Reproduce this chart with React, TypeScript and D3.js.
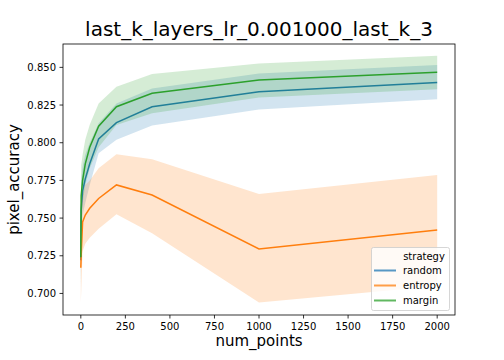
import React, { useEffect, useRef } from 'react';
import * as d3 from 'd3';

// num_points values on the x axis
const numPoints = [0, 2, 10, 25, 50, 100, 200, 400, 1000, 2000];

// strategy: random
const randomMean = [0.722, 0.755, 0.768, 0.776, 0.786, 0.8025, 0.8133, 0.8239, 0.8338, 0.84];
const randomLow = [0.7, 0.735, 0.752, 0.76, 0.772, 0.793, 0.802, 0.8115, 0.822, 0.8288];
const randomHigh = [0.745, 0.775, 0.784, 0.792, 0.8, 0.8129, 0.826, 0.836, 0.846, 0.8515];

// strategy: entropy
const entropyMean = [0.717, 0.725, 0.7475, 0.752, 0.7565, 0.763, 0.772, 0.7653, 0.7295, 0.7421];
const entropyLow = [0.694, 0.7, 0.728, 0.733, 0.737, 0.743, 0.7525, 0.74, 0.694, 0.705];
const entropyHigh = [0.74, 0.75, 0.765, 0.772, 0.775, 0.783, 0.7923, 0.789, 0.766, 0.7786];

// strategy: margin
const marginMean = [0.724, 0.765, 0.775, 0.786, 0.797, 0.811, 0.8239, 0.8328, 0.8416, 0.8467];
const marginLow = [0.705, 0.745, 0.76, 0.772, 0.783, 0.797, 0.8117, 0.8195, 0.83, 0.8354];
const marginHigh = [0.745, 0.785, 0.792, 0.802, 0.812, 0.826, 0.8371, 0.8456, 0.8526, 0.8577];

const strategies = ['random', 'entropy', 'margin'];
const colors = ['#1f77b4', '#ff7f0e', '#2ca02c'];

const xTicks = [0, 250, 500, 750, 1000, 1250, 1500, 1750, 2000];
const yTicks = [0.7, 0.725, 0.75, 0.775, 0.8, 0.825, 0.85];

const App = () => {
  const ref = useRef<SVGSVGElement>(null);

  useEffect(() => {
    const svg = d3.select(ref.current);
    svg.selectAll('*').remove();

    const left = 63, right = 455, top = 44, bottom = 315;
    const font = 'DejaVu Sans, sans-serif';

    const x = d3.scaleLinear().domain([-100, 2100]).range([left, right]);
    const y = d3.scaleLinear().domain([0.6857, 0.8655]).range([bottom, top]);

    svg.append('rect').attr('width', 504).attr('height', 360).attr('fill', '#fff');

    const series = [
      { mean: randomMean, low: randomLow, high: randomHigh },
      { mean: entropyMean, low: entropyLow, high: entropyHigh },
      { mean: marginMean, low: marginLow, high: marginHigh },
    ];

    const line = d3.line<number>()
      .x((_, i) => x(numPoints[i]))
      .y(d => y(d));

    series.forEach((s, k) => {
      svg.append('path')
        .attr('d', line(s.mean))
        .attr('fill', 'none')
        .attr('stroke', colors[k])
        .attr('stroke-width', 1.5);

      const area = d3.area<number>()
        .x((_, i) => x(numPoints[i]))
        .y0((_, i) => y(s.low[i]))
        .y1((_, i) => y(s.high[i]));

      svg.append('path')
        .attr('d', area(s.mean))
        .attr('fill', colors[k])
        .attr('fill-opacity', 0.2);
    });

    // frame
    svg.append('rect')
      .attr('x', left).attr('y', top)
      .attr('width', right - left).attr('height', bottom - top)
      .attr('fill', 'none').attr('stroke', '#000').attr('stroke-width', 0.8);

    // x ticks
    const xg = svg.append('g');
    xTicks.forEach(t => {
      xg.append('line')
        .attr('x1', x(t)).attr('x2', x(t))
        .attr('y1', bottom).attr('y2', bottom + 3.5)
        .attr('stroke', '#000').attr('stroke-width', 0.8);
      xg.append('text')
        .attr('x', x(t)).attr('y', bottom + 7)
        .attr('dy', '0.76em')
        .attr('text-anchor', 'middle')
        .attr('font-family', font).attr('font-size', 10)
        .text(String(t));
    });

    // y ticks
    const yg = svg.append('g');
    yTicks.forEach(t => {
      yg.append('line')
        .attr('x1', left - 3.5).attr('x2', left)
        .attr('y1', y(t)).attr('y2', y(t))
        .attr('stroke', '#000').attr('stroke-width', 0.8);
      yg.append('text')
        .attr('x', left - 7).attr('y', y(t))
        .attr('dy', '0.36em')
        .attr('text-anchor', 'end')
        .attr('font-family', font).attr('font-size', 10)
        .text(d3.format('.3f')(t));
    });

    // labels
    svg.append('text')
      .attr('x', (left + right) / 2).attr('y', 346)
      .attr('text-anchor', 'middle')
      .attr('font-family', font).attr('font-size', 15)
      .text('num_points');

    svg.append('text')
      .attr('transform', `translate(19, ${(top + bottom) / 2}) rotate(-90)`)
      .attr('text-anchor', 'middle')
      .attr('font-family', font).attr('font-size', 15)
      .text('pixel_accuracy');

    svg.append('text')
      .attr('x', (left + right) / 2).attr('y', 36)
      .attr('text-anchor', 'middle')
      .attr('font-family', font).attr('font-size', 20)
      .text('last_k_layers_lr_0.001000_last_k_3');

    // legend
    const lg = svg.append('g');
    lg.append('rect')
      .attr('x', 371.5).attr('y', 247.5)
      .attr('width', 78).attr('height', 63)
      .attr('rx', 2)
      .attr('fill', '#fff').attr('fill-opacity', 0.8)
      .attr('stroke', '#cccccc').attr('stroke-width', 0.8);
    lg.append('text')
      .attr('x', 424).attr('y', 256)
      .attr('dy', '0.36em')
      .attr('text-anchor', 'middle')
      .attr('font-family', font).attr('font-size', 10)
      .text('strategy');
    strategies.forEach((name, k) => {
      const cy = 270.5 + k * 15;
      lg.append('line')
        .attr('x1', 374).attr('x2', 396)
        .attr('y1', cy).attr('y2', cy)
        .attr('stroke', colors[k]).attr('stroke-width', 2)
        .attr('stroke-opacity', 0.75);
      lg.append('text')
        .attr('x', 403).attr('y', cy)
        .attr('dy', '0.36em')
        .attr('font-family', font).attr('font-size', 10)
        .text(name);
    });
  }, []);

  return (
    <svg
      ref={ref}
      width={504}
      height={360}
      style={{ position: 'absolute', left: 0, top: 0 }}
    />
  );
};

export default App;
